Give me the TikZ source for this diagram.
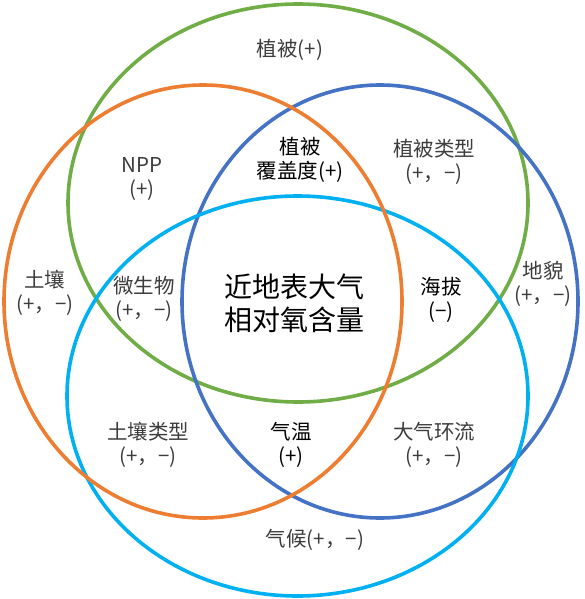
\documentclass[tikz,border=0pt]{standalone}
\usepackage{fontspec}
\setmainfont{Noto Sans CJK SC}
\usepackage{tikz}
\definecolor{RingGrn}{RGB}{112,173,71}
\definecolor{RingOrg}{RGB}{237,125,49}
\definecolor{RingBlu}{RGB}{68,114,196}
\definecolor{RingCyn}{RGB}{0,176,240}
\definecolor{TxtGry} {RGB}{60,60,60}
\tikzset{
  ring/.style={line width=3.6pt},
  lb_set/.style={align=center,inner sep=0pt,text=TxtGry,font=\fontsize{20.5}{24}\selectfont},
  lb_mix/.style={lb_set,text=black},
  lb_core/.style={align=center,inner sep=0pt,text=black,font=\fontsize{28}{33}\selectfont},
}

\begin{document}
\begin{tikzpicture}[x=1pt,y=-1pt]
\useasboundingbox (0,0) rectangle (585,599);
% rings
\draw[ring,RingGrn](298,203) ellipse [x radius=230pt,y radius=199pt];
\draw[ring,RingBlu](380,301.5) ellipse [x radius=198pt,y radius=216.5pt];
\draw[ring,RingCyn](297.5,396) ellipse [x radius=230.5pt,y radius=200pt];
\draw[ring,RingOrg](203,301.5) ellipse [x radius=199pt,y radius=216.5pt];
% outer labels
\node[lb_set] at (290,50)(veg){植被(+)};
\node[lb_set] at (45,293)(soil){土壤\\(+，−)};
\node[lb_set] at (543,284)(relief){地貌\\(+，−)};
\node[lb_set] at (315,540)(clim){气候(+，−)};
% overlaps
\node[lb_set] at (142,179)(npp){NPP\\(+)};
\node[lb_set] at (434,162)(vtype){植被类型\\(+，−)};
\node[lb_set] at (144,299)(micro){微生物\\(+，−)};
\node[lb_set] at (148,445)(stype){土壤类型\\(+，−)};
\node[lb_set] at (434,445)(circ){大气环流\\(+，−)};
\node[lb_mix] at (300,160)(cover){植被\\覆盖度(+)};
\node[lb_mix] at (441,300)(alt){海拔\\(−)};
\node[lb_mix] at (291,445)(temp){气温\\(+)};
% core
\node[lb_core] at (294,303)(core){近地表大气\\相对氧含量};
\end{tikzpicture}
\end{document}
